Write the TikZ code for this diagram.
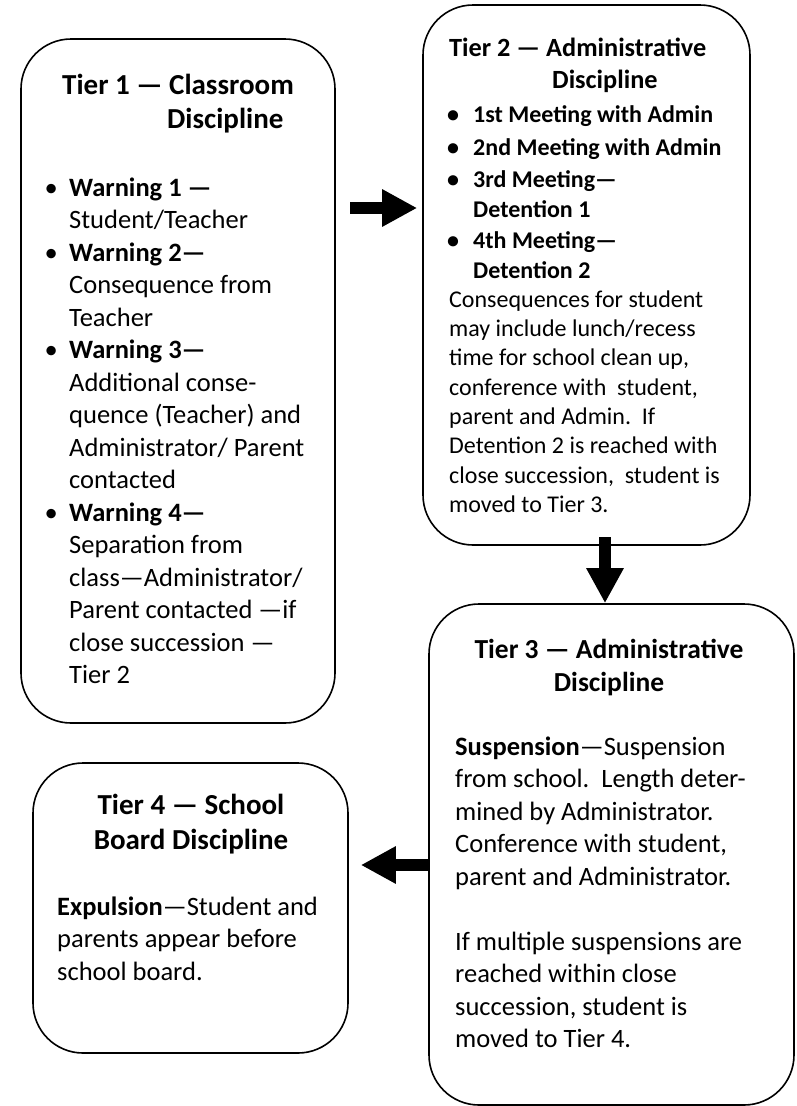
\documentclass[tikz,border=0pt]{standalone}
\usepackage{fontspec}
\setmainfont{Carlito}
\usetikzlibrary{arrows.meta}

\tikzset{
  tier/.style={draw, line width=1.6pt, rounded corners=50pt, inner sep=0pt},
  txt/.style={anchor=base west, inner sep=0pt},
  ctxt/.style={anchor=base, inner sep=0pt},
  fat/.style={line width=12pt, -{Triangle[length=35pt, width=35pt]}}
}
% bullet item: bullet centre, text indent, content
\newcommand{\bitem}[3]{\par\hangindent=#2\hangafter=1\noindent\makebox[#2][l]{\hspace*{#1}\makebox[0pt]{\textbullet}}#3}

\begin{document}
\begin{tikzpicture}[x=1pt, y=-1pt]
    \fill[white] (0,0) rectangle (796,1106);
    \useasboundingbox (0,0) rectangle (796,1106);

    \node (tier1) [tier, minimum width=314pt, minimum height=684pt] at (178,381) {};
    \node (tier2) [tier, minimum width=327pt, minimum height=540pt] at (586.5,275) {};
    \node (tier3) [tier, minimum width=365pt, minimum height=501pt] at (611.5,854.5) {};
    \node (tier4) [tier, minimum width=315pt, minimum height=290pt] at (190.5,908) {};

    % Tier 1
    \node (t1head) [txt] at (62,94) {\begin{minipage}[t]{280pt}\fontsize{29}{34}\selectfont\bfseries
        Tier 1 — Classroom\\\hspace*{105pt}Discipline\end{minipage}};
    \node (t1body) [txt] at (40,196) {\begin{minipage}[t]{290pt}\fontsize{26.5}{32.5}\selectfont
        \bitem{11pt}{29pt}{\textbf{Warning 1 —}\\Student/Teacher}
        \bitem{11pt}{29pt}{\textbf{Warning 2—}\\Consequence from\\Teacher}
        \bitem{11pt}{29pt}{\textbf{Warning 3—}\\Additional conse-\\quence (Teacher) and\\Administrator/ Parent\\contacted}
        \bitem{11pt}{29pt}{\textbf{Warning 4—}\\Separation from\\class—Administrator/\\Parent contacted —if\\close succession —\\Tier 2}
        \end{minipage}};

    % Tier 2
    \node (t2head) [txt] at (449,56) {\begin{minipage}[t]{300pt}\fontsize{26.3}{32}\selectfont\bfseries
        Tier 2 — Administrative\\\hspace*{103pt}Discipline\end{minipage}};
    \node (t2body) [txt] at (449,122) {\begin{minipage}[t]{295pt}\fontsize{24}{30}\selectfont\bfseries
        \bitem{4pt}{24pt}{1st Meeting with Admin}\par\vspace{3pt}
        \bitem{4pt}{24pt}{2nd Meeting with Admin}\par\vspace{2pt}
        \bitem{4pt}{24pt}{3rd Meeting—\\Detention 1}\par\vspace{1pt}
        \bitem{4pt}{24pt}{4th Meeting—\\Detention 2}\par
        \mdseries\fontsize{24}{29.3}\selectfont\noindent
        Consequences for student\\may include lunch/recess\\time for school clean up,\\conference with\ \ student,\\parent and Admin.\ \ If\\Detention 2 is reached with\\close succession,\ \ student is\\moved to Tier 3.
        \end{minipage}};

    % Tier 3
    \node (t3head) [ctxt] at (609,658) {\begin{minipage}[t]{350pt}\centering\fontsize{27.5}{33}\selectfont\bfseries
        Tier 3 — Administrative\\Discipline\end{minipage}};
    \node (t3body) [txt] at (455,755) {\begin{minipage}[t]{330pt}\fontsize{26.5}{32.5}\selectfont\noindent
        \textbf{Suspension}—Suspension\\from school.\ \ Length deter-\\mined by Administrator.\\Conference with student,\\parent and Administrator.\\[32.5pt]
        If multiple suspensions are\\reached within close\\succession, student is\\moved to Tier 4.
        \end{minipage}};

    % Tier 4
    \node (t4head) [ctxt] at (191,814) {\begin{minipage}[t]{300pt}\centering\fontsize{29}{35}\selectfont\bfseries
        Tier 4 — School\\Board Discipline\end{minipage}};
    \node (t4body) [txt] at (57,915) {\begin{minipage}[t]{285pt}\fontsize{26.5}{32.5}\selectfont\noindent
        \textbf{Expulsion}—Student and\\parents appear before\\school board.
        \end{minipage}};

    \coordinate (a1) at (350,208);
    \coordinate (a2) at (605,537);
    \coordinate (a3) at (428,865);
    \draw[fat, shorten >=5pt] (a1) -- (a1 -| tier2.west);
    \draw[fat] (a2) -- (a2 |- tier3.north);
    \draw[fat, shorten >=12pt] (a3) -- (a3 -| tier4.east);
\end{tikzpicture}
\end{document}
